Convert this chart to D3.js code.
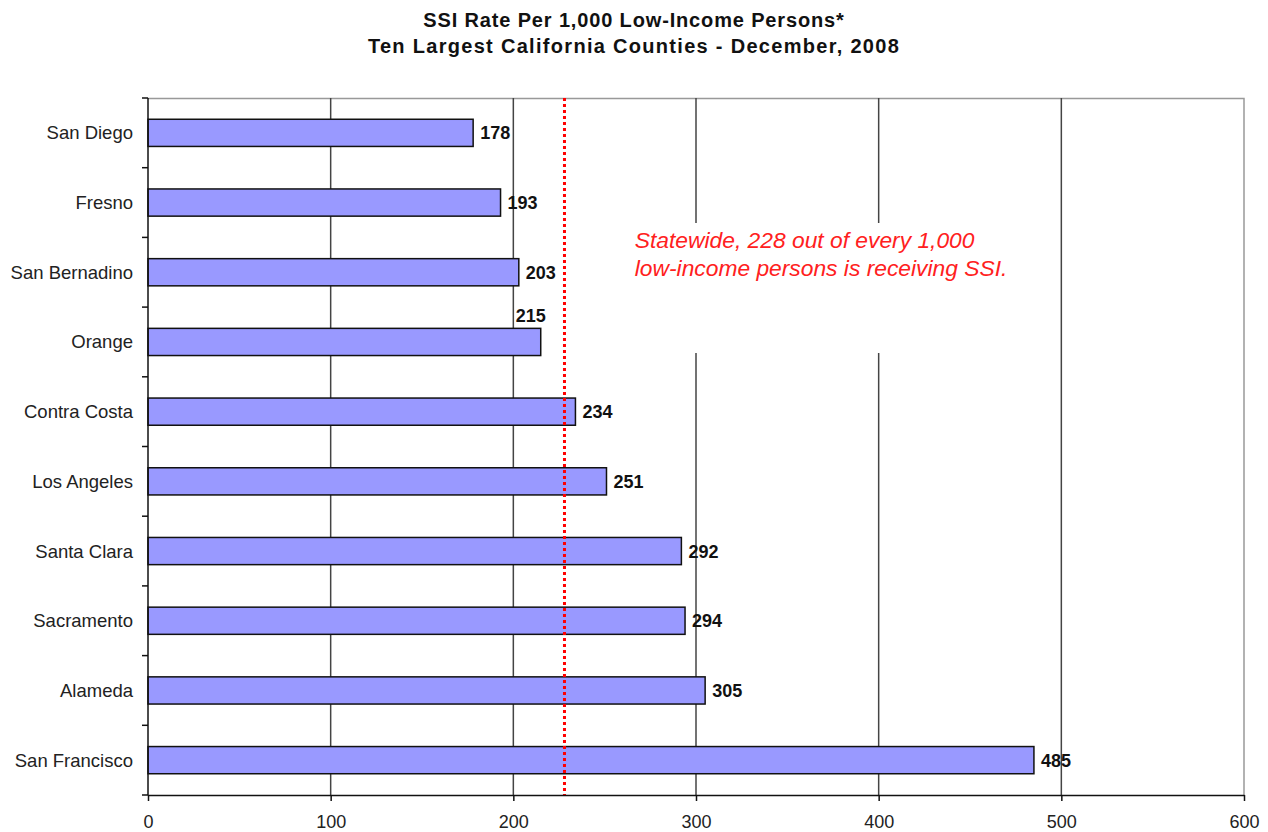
<!DOCTYPE html>
<html>
<head>
<meta charset="utf-8">
<script src="https://cdn.jsdelivr.net/npm/d3@7"></script>
<style>
  html, body { margin: 0; padding: 0; background: #fff; }
  svg { display: block; font-family: "Liberation Sans", Arial, sans-serif; }
</style>
</head>
<body>
<svg id="chart" width="1268" height="832"></svg>
<script>
// SSI recipients per 1,000 low-income persons, ten largest counties
const counties = ["San Diego", "Fresno", "San Bernadino", "Orange", "Contra Costa",
                  "Los Angeles", "Santa Clara", "Sacramento", "Alameda", "San Francisco"];
const rates = [178, 193, 203, 215, 234, 251, 292, 294, 305, 485];
const statewideRate = 228;
const xTicks = [0, 100, 200, 300, 400, 500, 600];
const titleLines = ["SSI Rate Per 1,000 Low-Income Persons*",
                    "Ten Largest California Counties - December, 2008"];
const noteLines = ["Statewide, 228 out of every 1,000",
                   "low-income persons is receiving SSI."];

const svg = d3.select("#chart");
const margin = { left: 148, top: 98, right: 24, bottom: 37 };
const W = 1268, H = 832;
const plotW = W - margin.left - margin.right;
const plotH = H - margin.top - margin.bottom;

const x = d3.scaleLinear().domain([0, 600]).range([0, plotW]);
const y = d3.scaleBand().domain(counties).range([0, plotH]).padding(0);
const barH = y.bandwidth() * 0.39;

// Title
svg.append("g").selectAll("text").data(titleLines).join("text")
  .attr("x", 634).attr("y", (d, i) => 26.5 + i * 26.5)
  .attr("text-anchor", "middle")
  .attr("font-size", 20).attr("font-weight", "bold").attr("fill", "#111")
  .attr("letter-spacing", (d, i) => i === 0 ? 0.85 : 1.3)
  .text(d => d);

const g = svg.append("g").attr("transform", `translate(${margin.left},${margin.top})`);

// Plot frame (top and right edges)
g.append("path")
  .attr("d", `M0,0.5H${plotW}V${plotH}`)
  .attr("fill", "none").attr("stroke", "#999").attr("stroke-width", 1.5);

// Vertical gridlines
g.append("g").selectAll("line").data(xTicks.filter(t => t > 0 && t < 600)).join("line")
  .attr("x1", d => x(d)).attr("x2", d => x(d))
  .attr("y1", 0).attr("y2", plotH)
  .attr("stroke", "#444").attr("stroke-width", 1.5);

// White backing of the annotation, interrupting the gridlines
g.append("rect")
  .attr("x", x(262)).attr("y", 125)
  .attr("width", x(498) - x(262)).attr("height", 130)
  .attr("fill", "#fff");

// Bars
g.append("g").selectAll("rect").data(counties).join("rect")
  .attr("x", 0)
  .attr("y", (d) => y(d) + (y.bandwidth() - barH) / 2)
  .attr("width", (d, i) => x(rates[i]))
  .attr("height", barH)
  .attr("fill", "#9999ff").attr("stroke", "#111").attr("stroke-width", 1.5);

// Value labels; a label that would run into the statewide line sits above its bar
const labelW = 32;
g.append("g").selectAll("text").data(counties).join("text")
  .each(function (d, i) {
    const end = x(rates[i]);
    const cy = y(d) + y.bandwidth() / 2;
    const clash = rates[i] < statewideRate && end + 7 + labelW > x(statewideRate);
    d3.select(this)
      .attr("x", clash ? end - 25 : end + 7)
      .attr("y", clash ? cy - barH / 2 - 6.5 : cy + 6.5);
  })
  .attr("font-size", 18).attr("font-weight", "bold").attr("fill", "#111")
  .text((d, i) => rates[i]);

// Statewide reference line
g.append("line")
  .attr("x1", x(statewideRate)).attr("x2", x(statewideRate))
  .attr("y1", 0).attr("y2", plotH)
  .attr("stroke", "#ff0000").attr("stroke-width", 3)
  .attr("stroke-dasharray", "3,3");

// Annotation
g.append("g").selectAll("text").data(noteLines).join("text")
  .attr("x", x(266.5)).attr("y", (d, i) => 149.5 + i * 28)
  .attr("font-size", 22.8).attr("font-style", "italic").attr("fill", "#ff2020")
  .text(d => d);

// X axis
const xAxis = g.append("g").attr("transform", `translate(0,${plotH})`)
  .call(d3.axisBottom(x).tickValues(xTicks).tickSize(6).tickSizeOuter(0));
xAxis.select(".domain").attr("stroke", "#111").attr("stroke-width", 1.5);
xAxis.selectAll(".tick line").attr("stroke", "#111").attr("stroke-width", 1.5);
xAxis.selectAll(".tick text")
  .attr("y", 32.5).attr("dy", null)
  .attr("font-size", 18).attr("fill", "#222")
  .attr("font-family", "Liberation Sans, Arial, sans-serif");

// Y axis line with ticks at the band boundaries
g.append("line").attr("x1", 0).attr("x2", 0).attr("y1", 0).attr("y2", plotH)
  .attr("stroke", "#111").attr("stroke-width", 1.5);
g.append("g").selectAll("line").data(d3.range(counties.length + 1)).join("line")
  .attr("x1", -6).attr("x2", 0)
  .attr("y1", i => i * y.step()).attr("y2", i => i * y.step())
  .attr("stroke", "#111").attr("stroke-width", 1.5);

// Category labels
g.append("g").selectAll("text").data(counties).join("text")
  .attr("x", -15).attr("y", d => y(d) + y.bandwidth() / 2 + 6.5)
  .attr("text-anchor", "end")
  .attr("font-size", 18.5).attr("fill", "#222")
  .text(d => d);
</script>
</body>
</html>
